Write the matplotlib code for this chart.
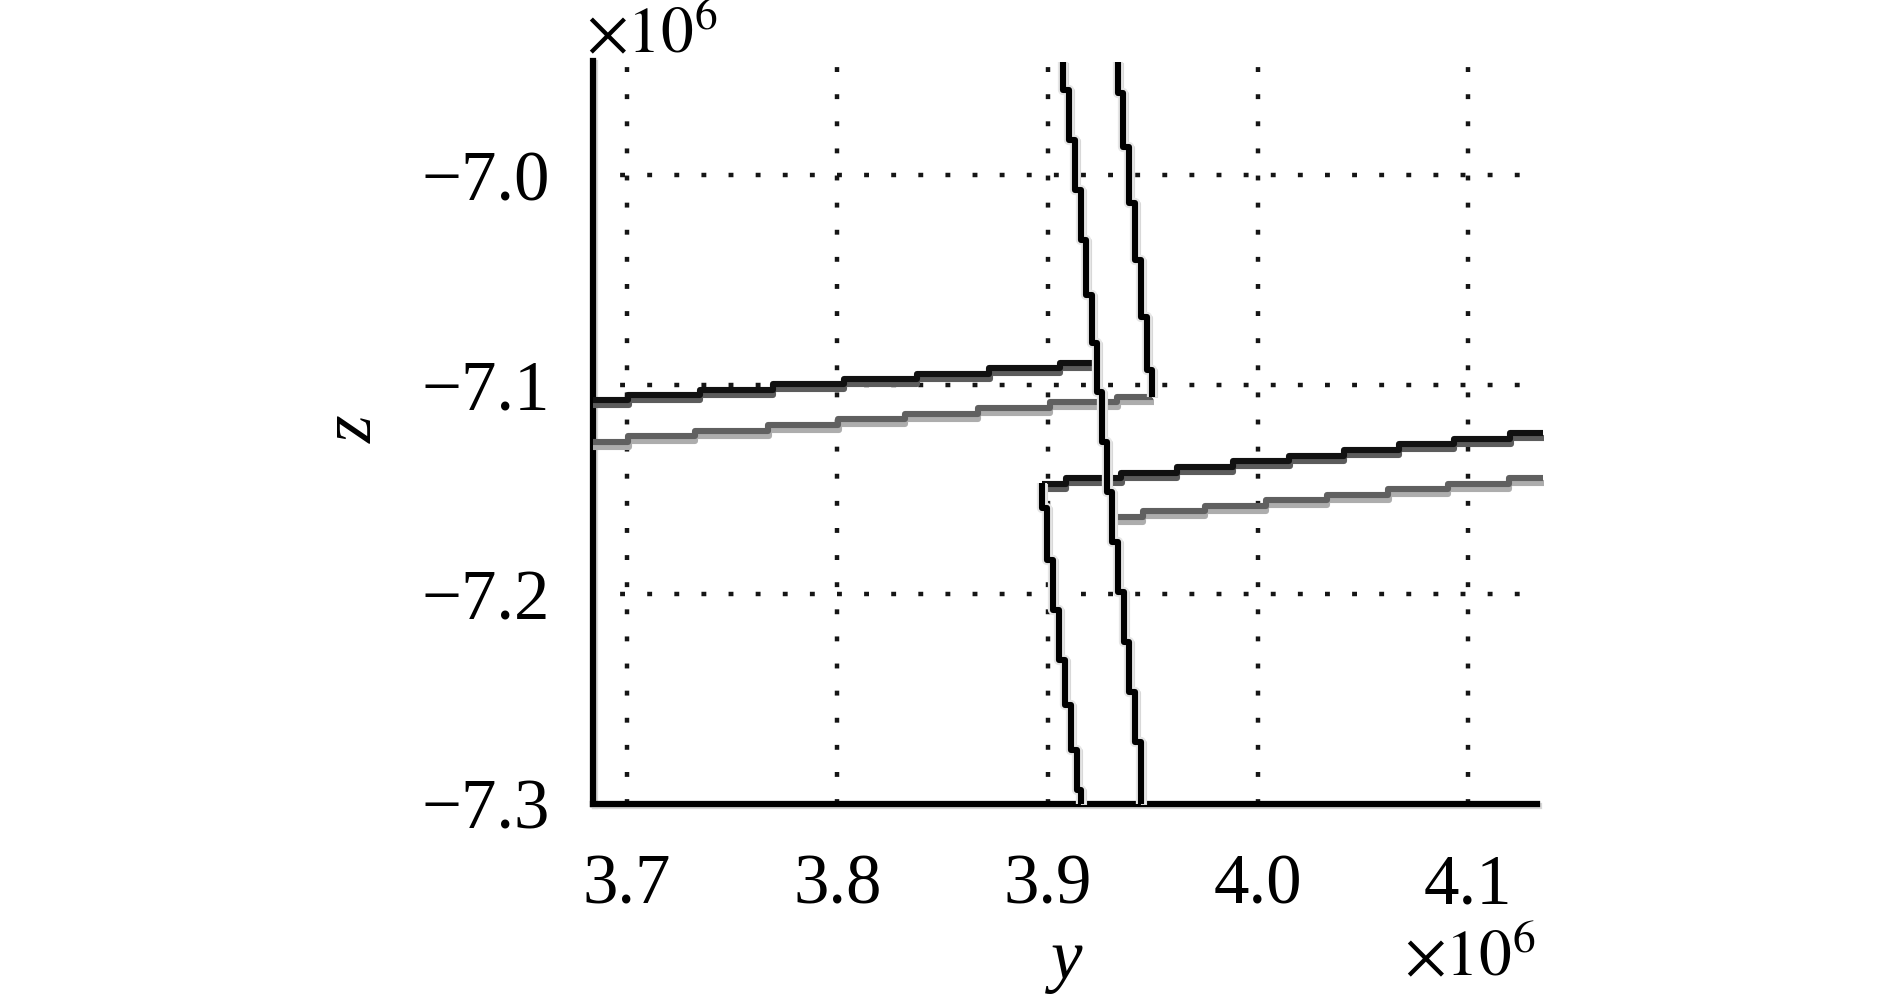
import numpy as np
import matplotlib
matplotlib.use("Agg")
import matplotlib.pyplot as plt
import matplotlib.patheffects as pe
from matplotlib.ticker import FuncFormatter

plt.rcParams['font.family'] = ['Liberation Serif', 'DejaVu Serif']
plt.rcParams['mathtext.fontset'] = 'stix'

M = 1e6

# upper black branch (horizontal), y step edges and z levels
up_black_y = np.array([3.6838, 3.7005, 3.7347, 3.7694, 3.8032, 3.8379, 3.8722, 3.9059, 3.9226]) * M
up_black_z = np.array([-7.1073, -7.1050, -7.1026, -7.0997, -7.0973, -7.0949, -7.0921, -7.0897]) * M

# upper gray branch (horizontal)
up_gray_y = np.array([3.6838, 3.7005, 3.7323, 3.7671, 3.8004, 3.8322, 3.8669, 3.9012, 3.9331, 3.9502]) * M
up_gray_z = np.array([-7.1274, -7.1245, -7.1221, -7.1193, -7.1164, -7.1140, -7.1112, -7.1083, -7.1059]) * M

# right riser of the upper gray branch (vertical): z edges, y levels
rise_z = np.array([-7.1059, -7.0930, -7.0677, -7.0406, -7.0134, -6.9866, -6.9609, -6.9461]) * M
rise_y = np.array([3.9497, 3.9473, 3.9445, 3.9416, 3.9388, 3.9359, 3.9335]) * M

# long black vertical
vert_z = np.array([-6.9461, -6.9594, -6.9833, -7.0072, -7.0310, -7.0573, -7.0802, -7.1035,
                   -7.1274, -7.1512, -7.1751, -7.1989, -7.2228, -7.2467, -7.2705, -7.3000]) * M
vert_y = np.array([3.9074, 3.9103, 3.9131, 3.9159, 3.9183, 3.9212, 3.9235, 3.9259,
                   3.9283, 3.9307, 3.9335, 3.9364, 3.9388, 3.9416, 3.9445]) * M

# lower black branch: vertical part and horizontal part
low_v_z = np.array([-7.1469, -7.1589, -7.1837, -7.2075, -7.2314, -7.2529, -7.2743, -7.2934, -7.3000]) * M
low_v_y = np.array([3.8974, 3.8998, 3.9026, 3.9055, 3.9083, 3.9112, 3.9140, 3.9159]) * M
low_black_y = np.array([3.8974, 3.9088, 3.9350, 3.9616, 3.9882, 4.0149, 4.0410, 4.0672, 4.0933, 4.1200, 4.1357]) * M
low_black_z = np.array([-7.1474, -7.1446, -7.1422, -7.1393, -7.1365, -7.1341, -7.1312, -7.1283, -7.1260, -7.1231]) * M

# lower gray branch (horizontal)
low_gray_y = np.array([3.9326, 3.9454, 3.9749, 4.0039, 4.0329, 4.0620, 4.0905, 4.1195, 4.1357]) * M
low_gray_z = np.array([-7.1632, -7.1603, -7.1579, -7.1551, -7.1527, -7.1498, -7.1474, -7.1446]) * M

xticks = np.array([3.7, 3.8, 3.9, 4.0, 4.1]) * M
yticks = np.array([-7.3, -7.2, -7.1, -7.0]) * M


def stairs(edges, levels):
    a, b = [], []
    for i, lv in enumerate(levels):
        a += [edges[i], edges[i + 1]]
        b += [lv, lv]
    return np.array(a), np.array(b)


fig = plt.figure(figsize=(18.9, 9.99), dpi=100)
ax = fig.add_axes([593 / 1890, 1 - 804 / 999, 944 / 1890, 743 / 999])

ax.set_xlim(3.6838 * M, 4.1328 * M)
ax.set_ylim(-7.3 * M, -6.9456 * M)
ax.set_xticks(xticks)
ax.set_yticks(yticks)
fmt = FuncFormatter(lambda v, p: f'{v / M:.1f}'.replace('-', '\u2212'))
ax.xaxis.set_major_formatter(fmt)
ax.yaxis.set_major_formatter(fmt)
ax.tick_params(length=0, labelsize=51)
ax.tick_params(axis='x', pad=36)
ax.tick_params(axis='y', pad=31)

ax.grid(True, color='#151515', lw=3.2, ls=(0, (1.1, 5.0)))
ax.set_axisbelow(True)

for s in ['top', 'right']:
    ax.spines[s].set_visible(False)
for s in ['left', 'bottom']:
    ax.spines[s].set_linewidth(4.5)
    ax.spines[s].set_color('black')
    ax.spines[s].set_path_effects([pe.SimpleLineShadow(offset=(1.5, -1.5), shadow_color='#d8d8d8', alpha=1), pe.Normal()])

lw = 4.4
dark_shadow = [pe.SimpleLineShadow(offset=(0.3, -3.4), shadow_color='#5c5c5c', alpha=1), pe.Normal()]
light_shadow = [pe.SimpleLineShadow(offset=(0.3, -3.4), shadow_color='#adadad', alpha=1), pe.Normal()]
halo = [pe.SimpleLineShadow(offset=(2.2, -0.5), shadow_color='#d6d6d6', alpha=1),
        pe.Stroke(linewidth=lw + 3, foreground='#e6e6e6'), pe.Normal()]

# horizontal branches
xs, zs = stairs(up_gray_y, up_gray_z)
ax.plot(xs, zs, color='#606060', lw=lw, solid_capstyle='butt', path_effects=light_shadow, clip_on=False, zorder=3)
xs, zs = stairs(low_gray_y, low_gray_z)
ax.plot(xs, zs, color='#606060', lw=lw, solid_capstyle='butt', path_effects=light_shadow, clip_on=False, zorder=3)
xs, zs = stairs(up_black_y, up_black_z)
ax.plot(xs, zs, color='#111111', lw=lw, solid_capstyle='butt', path_effects=dark_shadow, clip_on=False, zorder=4)
xs, zs = stairs(low_black_y, low_black_z)
ax.plot(xs, zs, color='#111111', lw=lw, solid_capstyle='butt', path_effects=dark_shadow, clip_on=False, zorder=4)

# vertical branches
for ze, yl in [(rise_z, rise_y), (vert_z, vert_y), (low_v_z, low_v_y)]:
    zs, xs = stairs(ze, yl)
    ax.plot(xs, zs, color='black', lw=lw, solid_capstyle='butt', path_effects=halo, clip_on=False, zorder=5)

fig.text(1067 / 1890, 1 - 979 / 999, 'y', fontsize=51, style='italic', ha='center', va='baseline')
fig.text(354 / 1890, 1 - 429 / 999, 'z', fontsize=51, style='italic', ha='center', va='center', rotation=90)
fig.text(586 / 1890, 1 - 53 / 999, r'$\times10^{6}$', fontsize=47, ha='left', va='baseline')
fig.text(1404 / 1890, 1 - 976 / 999, r'$\times10^{6}$', fontsize=47, ha='left', va='baseline')

fig.savefig('out.png', dpi=100)
